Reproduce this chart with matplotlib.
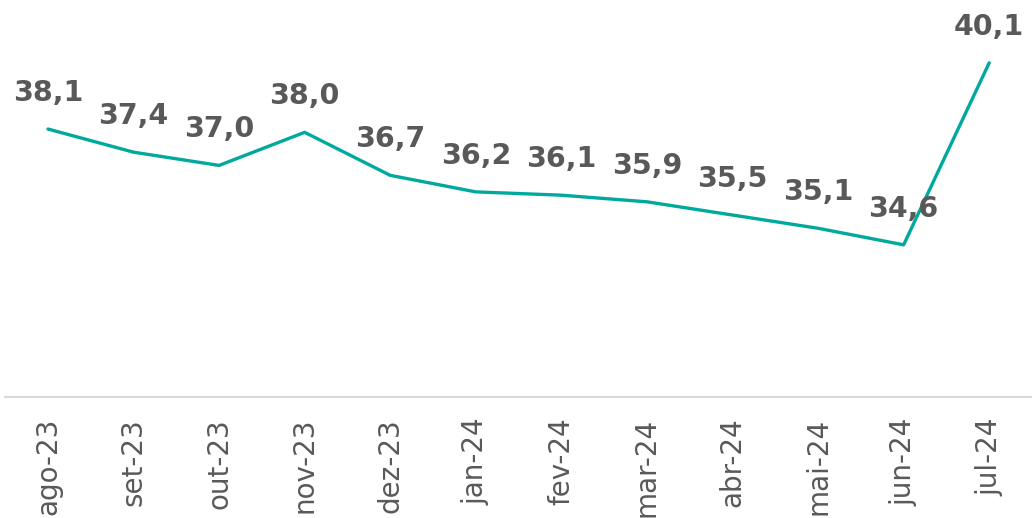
import matplotlib.pyplot as plt

# dados
months = ['ago-23', 'set-23', 'out-23', 'nov-23', 'dez-23', 'jan-24',
          'fev-24', 'mar-24', 'abr-24', 'mai-24', 'jun-24', 'jul-24']
values = [38.1, 37.4, 37.0, 38.0, 36.7, 36.2, 36.1, 35.9, 35.5, 35.1, 34.6, 40.1]

fig = plt.figure(figsize=(10.32, 5.18), dpi=100)
ax = fig.add_axes([0.005, 0.2336, 0.995, 0.7664])

x = list(range(len(months)))
ax.plot(x, values, color='#00A99D', linewidth=2.4, solid_capstyle='round')

for xi, v in zip(x, values):
    lbl = f'{v:.1f}'.replace('.', ',')
    ax.annotate(lbl, (xi, v), xytext=(0, 26), textcoords='offset points',
                ha='center', va='center', fontsize=20.5, fontweight='bold',
                color='#595959')

ax.set_xlim(-0.5, 11.5)
ax.set_ylim(30, 42)
ax.set_xticks(x)
ax.set_xticklabels(months, rotation=90, fontsize=20, color='#595959')
ax.tick_params(axis='x', length=0, pad=15)
ax.set_yticks([])

for s in ['top', 'right', 'left']:
    ax.spines[s].set_visible(False)
ax.spines['bottom'].set_color('#d9d9d9')
ax.spines['bottom'].set_linewidth(1.5)

fig.savefig('out.png', dpi=100)
